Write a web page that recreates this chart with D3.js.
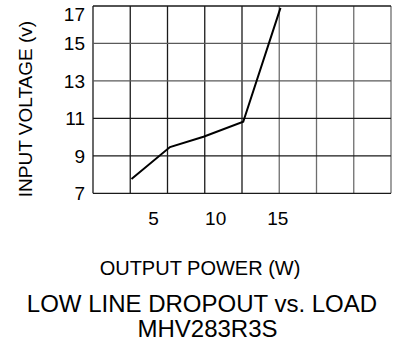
<!DOCTYPE html>
<html>
<head>
<meta charset="utf-8">
<script src="https://cdn.jsdelivr.net/npm/d3@7"></script>
<style>
  body { margin: 0; background: #fff; }
  text { font-family: "Liberation Sans", Arial, sans-serif; fill: #000; }
</style>
</head>
<body>
<div id="chart"></div>
<script>
// data
const powerW = [3.1, 6.2, 8.9, 12.1, 15.1];
const inputV = [7.76, 9.47, 10.02, 10.82, 16.9];
const xTickLabels = [5, 10, 15];
const yTickLabels = [7, 9, 11, 13, 15, 17];
const xGrid = [0, 3, 6, 9, 12, 15, 18, 21, 24];

const width = 401, height = 349;
const plotLeft = 93, plotRight = 391, plotTop = 6, plotBottom = 193.3;

const svg = d3.select('#chart').append('svg')
    .attr('width', width)
    .attr('height', height);

const x = d3.scaleLinear().domain([0, 24]).range([plotLeft, plotRight]);
const y = d3.scaleLinear().domain([7, 17]).range([plotBottom, plotTop]);

// grid
svg.append('g')
    .selectAll('line')
    .data(xGrid)
    .join('line')
    .attr('x1', d => x(d)).attr('x2', d => x(d))
    .attr('y1', plotTop).attr('y2', plotBottom)
    .attr('stroke', (d, i) => i >= 5 ? '#6e6e6e' : '#1a1a1a')
    .attr('stroke-width', 1.3);

svg.append('g')
    .selectAll('line')
    .data(yTickLabels)
    .join('line')
    .attr('x1', plotLeft).attr('x2', plotRight)
    .attr('y1', d => y(d)).attr('y2', d => y(d))
    .attr('stroke', d => (d === 13 || d === 15) ? '#5a5a5a' : '#1a1a1a')
    .attr('stroke-width', 1.3);

// y tick labels (top one pushed down so it stays inside the page)
svg.append('g')
    .selectAll('text')
    .data(yTickLabels)
    .join('text')
    .attr('x', 85)
    .attr('y', d => Math.max(y(d), 14))
    .attr('dy', '0.36em')
    .attr('text-anchor', 'end')
    .style('font-size', '19px')
    .text(d => d);

// x tick labels
svg.append('g')
    .selectAll('text')
    .data(xTickLabels)
    .join('text')
    .attr('x', d => x(d) - 1.5)
    .attr('y', 225)
    .attr('text-anchor', 'middle')
    .style('font-size', '19px')
    .text(d => d);

// curve
const line = d3.line()
    .x((d, i) => x(powerW[i]))
    .y(d => y(d));

svg.append('path')
    .datum(inputV)
    .attr('d', line)
    .attr('fill', 'none')
    .attr('stroke', '#000')
    .attr('stroke-width', 2);

// axis titles
svg.append('text')
    .attr('transform', `translate(32, 109) rotate(-90)`)
    .attr('text-anchor', 'middle')
    .style('font-size', '19px')
    .text('INPUT VOLTAGE (v)');

svg.append('text')
    .attr('x', 200)
    .attr('y', 275)
    .attr('text-anchor', 'middle')
    .style('font-size', '20px')
    .text('OUTPUT POWER (W)');

svg.append('text')
    .attr('x', 202)
    .attr('y', 311.5)
    .attr('text-anchor', 'middle')
    .style('font-size', '24px')
    .text('LOW LINE DROPOUT vs. LOAD');

svg.append('text')
    .attr('x', 207.5)
    .attr('y', 336.5)
    .attr('text-anchor', 'middle')
    .style('font-size', '24px')
    .text('MHV283R3S');
</script>
</body>
</html>
